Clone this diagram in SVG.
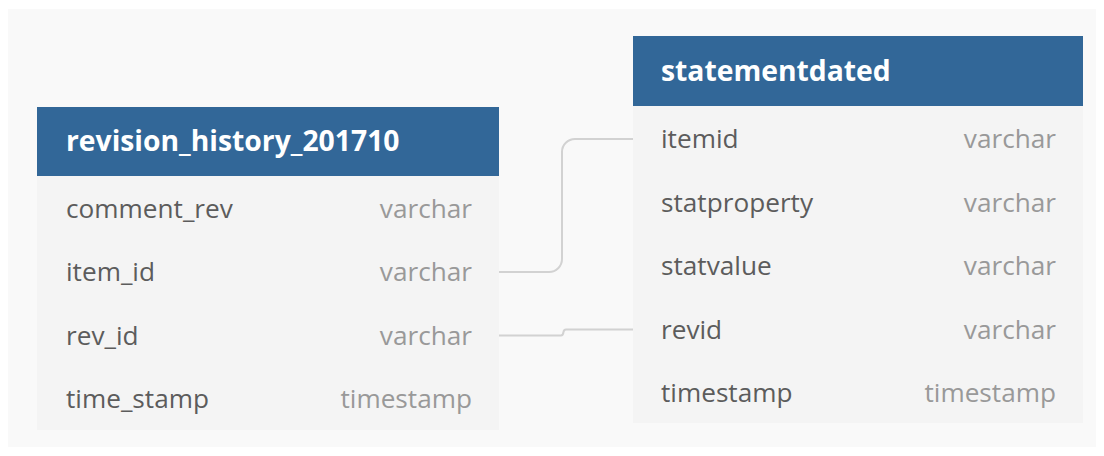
<svg xmlns="http://www.w3.org/2000/svg" width="1104" height="456" viewBox="0 0 1104 456">
<style>
.hdr{fill:#326798}
.body{fill:#f4f4f4}
.title{font-family:"Open Sans",sans-serif;font-weight:bold;font-size:28.3px;fill:#ffffff}
.name{font-family:"Open Sans",sans-serif;font-size:26.2px;fill:#5c5c5c}
.type{font-family:"Open Sans",sans-serif;font-size:26.2px;fill:#999999;text-anchor:end}
.conn{fill:none;stroke:#d2d2d2;stroke-width:2}
</style>
<rect x="0" y="0" width="1104" height="456" fill="#ffffff"/>
<rect x="8" y="9" width="1088" height="438" fill="#f9f9f9"/>
<g id="connectors">
<path class="conn" d="M499,272 H549 A13,13 0 0 0 562,259 V152 A13,13 0 0 1 575,139 H633"/>
<path class="conn" d="M499,335.5 H561 Q563,335.5 563.5,332 Q564,329.5 566,329.5 H633"/>
</g>
<g id="revision_history_201710">
<rect class="body" x="37" y="107" width="462" height="323"/>
<rect class="hdr" x="37" y="107" width="462" height="69"/>
<text class="title" x="66" y="151">revision_history_201710</text>
<text class="name" x="66" y="218">comment_rev</text><text class="type" x="472" y="218">varchar</text>
<text class="name" x="66" y="281">item_id</text><text class="type" x="472" y="281">varchar</text>
<text class="name" x="66" y="345">rev_id</text><text class="type" x="472" y="345">varchar</text>
<text class="name" x="66" y="408">time_stamp</text><text class="type" x="472" y="408">timestamp</text>
</g>
<g id="statementdated">
<rect class="body" x="633" y="36" width="450" height="387"/>
<rect class="hdr" x="633" y="36" width="450" height="70"/>
<text class="title" x="661" y="81">statementdated</text>
<text class="name" x="661" y="148">itemid</text><text class="type" x="1056" y="148">varchar</text>
<text class="name" x="661" y="212">statproperty</text><text class="type" x="1056" y="212">varchar</text>
<text class="name" x="661" y="275">statvalue</text><text class="type" x="1056" y="275">varchar</text>
<text class="name" x="661" y="339">revid</text><text class="type" x="1056" y="339">varchar</text>
<text class="name" x="661" y="402">timestamp</text><text class="type" x="1056" y="402">timestamp</text>
</g>
</svg>
